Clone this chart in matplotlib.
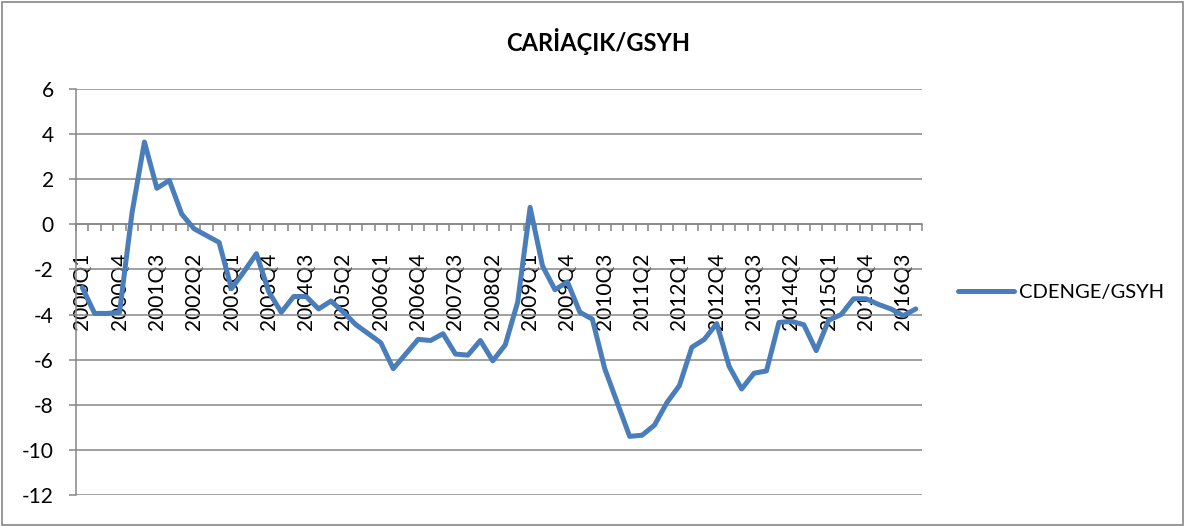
import matplotlib
matplotlib.use("Agg")
import matplotlib.pyplot as plt
from matplotlib.patches import Rectangle

plt.rcParams['font.family'] = ['Lato', 'DejaVu Sans']

# quarterly categories 2000Q1 .. 2016Q4
years = list(range(2000, 2017))
quarters = [f"{y}Q{q}" for y in years for q in (1, 2, 3, 4)]

# current account balance / GDP (%)
cdenge_gsyh = [
    -2.8, -3.95, -3.95, -3.9, 0.5, 3.65, 1.6, 1.95,
    0.45, -0.2, -0.5, -0.8, -2.85, -2.1, -1.3, -3.0,
    -3.9, -3.2, -3.2, -3.75, -3.4, -3.9, -4.45, -4.85,
    -5.25, -6.4, -5.75, -5.1, -5.15, -4.85, -5.75, -5.8,
    -5.15, -6.05, -5.35, -3.45, 0.75, -1.85, -2.9, -2.55,
    -3.9, -4.2, -6.4, -7.9, -9.4, -9.35, -8.9, -7.9,
    -7.15, -5.45, -5.1, -4.4, -6.3, -7.3, -6.6, -6.5,
    -4.35, -4.3, -4.45, -5.6, -4.25, -4.0, -3.3, -3.3,
    -3.55, -3.75, -4.05, -3.75,
]

title = "CARİAÇIK/GSYH"
series_name = "CDENGE/GSYH"
y_ticks = list(range(-12, 7, 2))

W, H = 1185, 526
grey = '#868686'
blue = '#4A7EBB'

fig = plt.figure(figsize=(W / 100, H / 100), dpi=100)
fig.patches.append(Rectangle((2 / W, 1 / H), 1 - 4 / W, 1 - 3 / H, transform=fig.transFigure,
                             fill=False, edgecolor=grey, lw=1.2))

ax = fig.add_axes([76 / W, 1 - 495 / H, (922 - 76) / W, (495 - 89) / H])

xpos = [i + 0.5 for i in range(len(quarters))]
ax.plot(xpos, cdenge_gsyh, color=blue, lw=3.6, solid_joinstyle='round',
        solid_capstyle='round', label=series_name, zorder=3)

ax.set_xlim(0, len(quarters))
ax.set_ylim(-12, 6)
ax.set_yticks(y_ticks)
ax.set_yticklabels([str(v) for v in y_ticks], fontsize=15)
ax.yaxis.grid(True, color=grey, lw=1.1)
ax.set_axisbelow(True)
ax.tick_params(axis='y', length=5, width=1.1, color=grey, pad=11)

for s in ('top', 'right'):
    ax.spines[s].set_visible(False)
ax.spines['left'].set_color(grey)
ax.spines['left'].set_linewidth(1.1)
ax.spines['bottom'].set_position(('data', 0))
ax.spines['bottom'].set_color(grey)
ax.spines['bottom'].set_linewidth(1.1)

# tick marks between categories, labels on every third category
ax.set_xticks(range(0, len(quarters) + 1))
ax.set_xticklabels([])
ax.tick_params(axis='x', which='major', length=5, width=1.1, color=grey)
ax.set_xticks(xpos[::3], minor=True)
ax.set_xticklabels(quarters[::3], minor=True, rotation=90, fontsize=15)
ax.tick_params(axis='x', which='minor', length=0, pad=20.5)

fig.text(598 / W, 1 - 41 / H, title, ha='center', va='center', fontsize=17, fontweight='bold')

ax.legend(loc='center left', bbox_to_anchor=(958 / W, 1 - 292 / H), bbox_transform=fig.transFigure,
          frameon=False, fontsize=14.5, handlelength=2.8, handletextpad=0.25,
          borderpad=0, borderaxespad=0)

fig.savefig('out.png', dpi=100)
